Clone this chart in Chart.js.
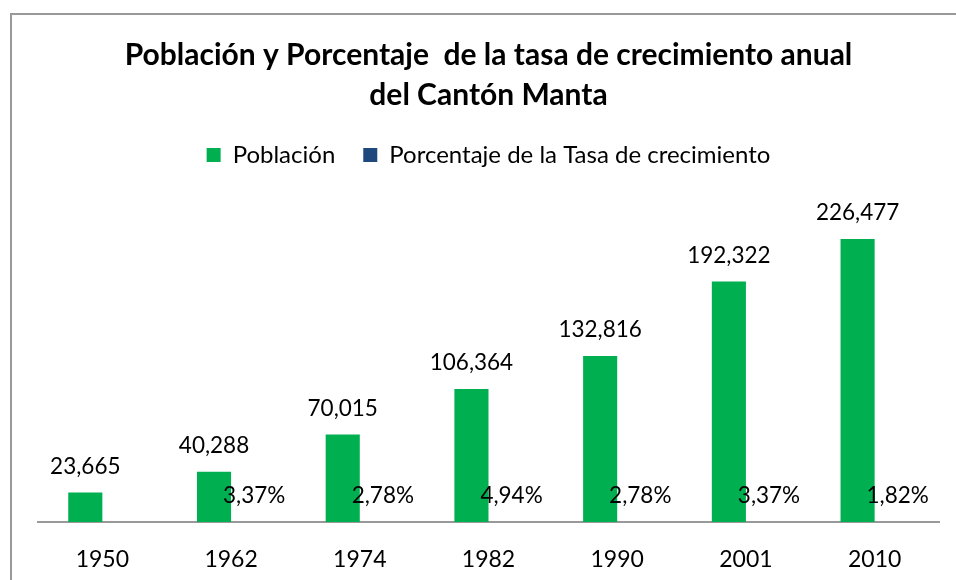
<!DOCTYPE html>
<html>
<head>
<meta charset="utf-8">
<script src="https://cdn.jsdelivr.net/npm/chart.js@4.4.0/dist/chart.umd.min.js"></script>
<style>
  html, body { margin: 0; padding: 0; background: #fff; }
  #wrap { position: relative; width: 956px; height: 580px; }
</style>
</head>
<body>
<div id="wrap"><canvas id="chart" width="956" height="580"></canvas></div>
<script>
const years = ['1950', '1962', '1974', '1982', '1990', '2001', '2010'];
const poblacion = [23665, 40288, 70015, 106364, 132816, 192322, 226477];
const tasa = [null, 3.37, 2.78, 4.94, 2.78, 3.37, 1.82]; // % on the same axis, so bars are ~0 tall

const FONT = 'Lato';

// gray frame around the chart (only top and left edges are visible)
const frame = {
  id: 'frame',
  beforeDraw(chart) {
    const c = chart.ctx;
    c.save();
    c.strokeStyle = '#999';
    c.lineWidth = 2;
    c.beginPath();
    c.moveTo(11, 580);
    c.lineTo(11, 14);
    c.lineTo(956, 14);
    c.stroke();
    c.restore();
  }
};

// value labels above each bar
const valueLabels = {
  id: 'valueLabels',
  afterDatasetsDraw(chart) {
    const c = chart.ctx;
    c.save();
    c.font = '22.5px ' + FONT;
    c.fillStyle = '#000';
    c.textAlign = 'center';
    c.textBaseline = 'middle';
    chart.data.datasets.forEach((ds, i) => {
      chart.getDatasetMeta(i).data.forEach((bar, j) => {
        const v = ds.data[j];
        if (v == null) return;
        const txt = i === 0
          ? v.toLocaleString('en-US')
          : v.toFixed(2).replace('.', ',') + '%';
        const dx = i === 0 ? 0 : 6;
        c.fillText(txt, bar.x + dx, bar.y - 26);
      });
    });
    c.restore();
  }
};

new Chart(document.getElementById('chart'), {
  type: 'bar',
  data: {
    labels: years,
    datasets: [
      {
        label: 'Población',
        data: poblacion,
        backgroundColor: '#00B050',
        categoryPercentage: 0.53,
        barPercentage: 1.0
      },
      {
        label: 'Porcentaje de la Tasa de crecimiento',
        data: tasa,
        backgroundColor: '#1F497D',
        categoryPercentage: 0.53,
        barPercentage: 1.0
      }
    ]
  },
  options: {
    responsive: false,
    animation: false,
    layout: { padding: { left: 38, right: 17, top: 0, bottom: 0 } },
    plugins: {
      title: {
        display: true,
        text: ['Población y Porcentaje  de la tasa de crecimiento anual', 'del Cantón Manta'],
        color: '#000',
        font: { family: FONT, size: 30, weight: 'bold', lineHeight: 40 / 30 },
        padding: { top: 35, bottom: 0 }
      },
      legend: {
        display: true,
        labels: {
          color: '#000',
          font: { family: FONT, size: 24 },
          boxWidth: 14,
          boxHeight: 14,
          padding: 28
        }
      },
      tooltip: { enabled: false }
    },
    scales: {
      x: {
        grid: { display: false },
        border: { display: true, color: '#999', width: 2 },
        ticks: {
          color: '#000',
          font: { family: FONT, size: 23 },
          padding: 16,
          maxRotation: 0
        },
        afterFit: scale => { scale.height = 58; }
      },
      y: {
        display: false,
        min: 0,
        max: 276000
      }
    }
  },
  plugins: [frame, valueLabels]
});
</script>
</body>
</html>
